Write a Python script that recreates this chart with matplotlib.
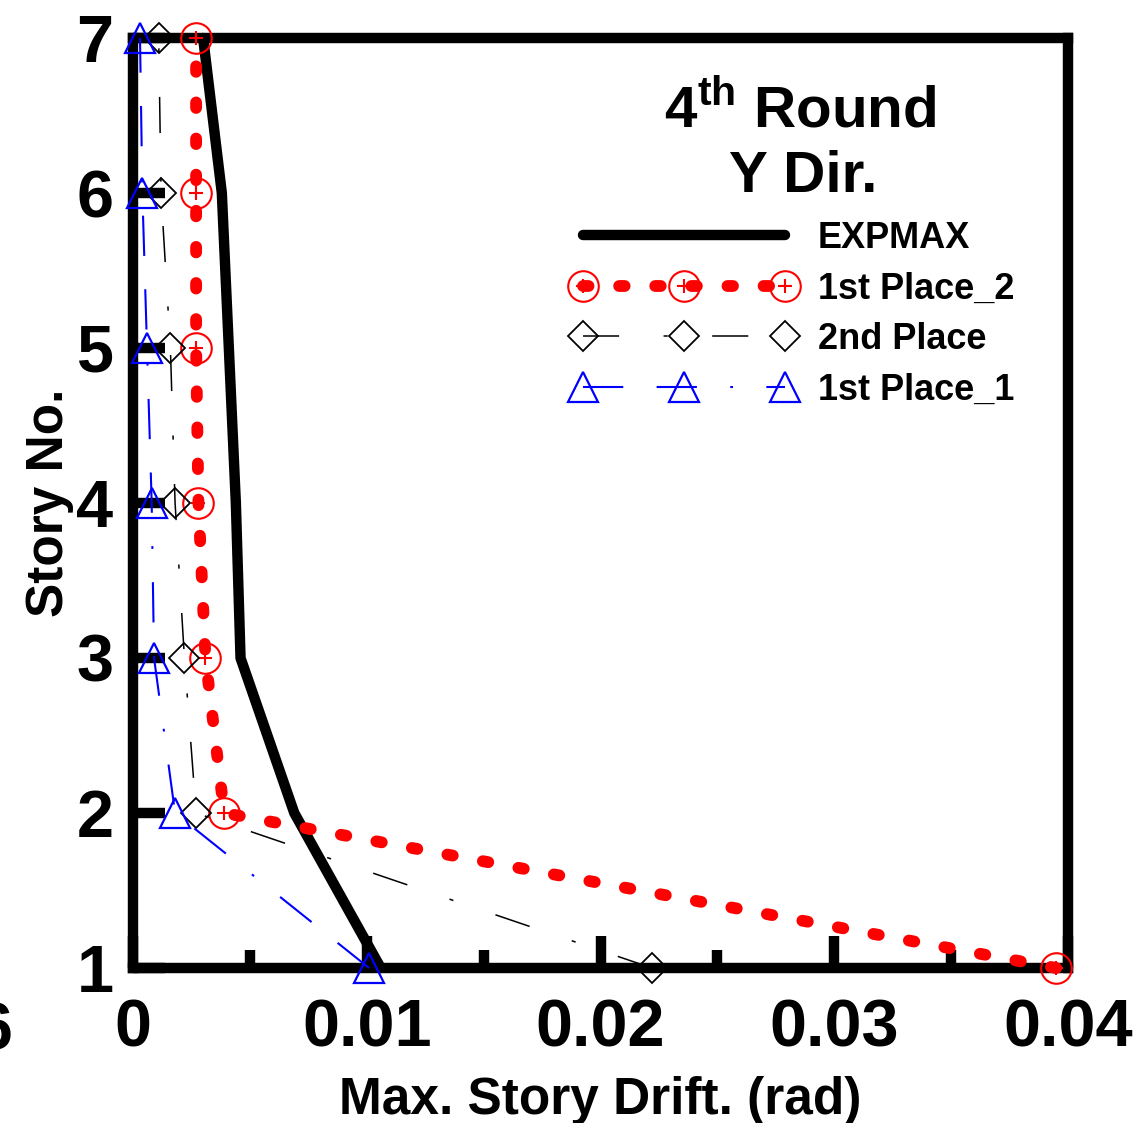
import matplotlib
matplotlib.use("Agg")
import matplotlib.pyplot as plt
from matplotlib.lines import Line2D
from matplotlib.legend_handler import HandlerTuple

plt.rcParams['font.family'] = ['Liberation Sans', 'DejaVu Sans']
plt.rcParams['font.weight'] = 'bold'
plt.rcParams['mathtext.fontset'] = 'custom'
plt.rcParams['mathtext.rm'] = 'Liberation Sans:bold'
plt.rcParams['mathtext.bf'] = 'Liberation Sans:bold'
plt.rcParams['lines.scale_dashes'] = False

# ---- data ----
stories = [1, 2, 3, 4, 5, 6, 7]
expmax = [0.0106, 0.0069, 0.0046, 0.0044, 0.0041, 0.0038, 0.0030]
first_place_2 = [0.0395, 0.0039, 0.0031, 0.0028, 0.0027, 0.0027, 0.0027]
second_place = [0.0222, 0.0027, 0.0022, 0.0018, 0.0016, 0.0012, 0.0011]
first_place_1 = [0.0101, 0.0018, 0.0009, 0.0008, 0.0006, 0.0004, 0.0003]
xticks = [0, 0.01, 0.02, 0.03, 0.04]
xticklabels = ['0', '0.01', '0.02', '0.03', '0.04']
xminor = [0.005, 0.015, 0.025, 0.035]
yticks = [1, 2, 3, 4, 5, 6, 7]

W, H = 1136, 1123
fig = plt.figure(figsize=(W / 100, H / 100), dpi=100)
ax = fig.add_axes([133 / W, 1 - 968 / H, (1068 - 133) / W, (968 - 38) / H])

l_exp, = ax.plot(expmax, stories, color='black', lw=7.5, solid_capstyle='round',
                 solid_joinstyle='round', zorder=3, clip_on=False)
l_red, = ax.plot(first_place_2, stories, color='red', lw=8.5, linestyle=(0, (4, 22)),
                 dash_capstyle='round', marker='o', ms=22, mfc='none', mec='red',
                 mew=1.5, zorder=4, clip_on=False)
l_redp, = ax.plot(first_place_2, stories, linestyle='none', marker='+', ms=10,
                  mec='red', mew=1.5, zorder=4, clip_on=False)
l_blk, = ax.plot(second_place, stories, color='black', lw=1.1,
                 linestyle=(0, (26, 32, 3, 32)), marker='D', ms=15, mfc='none',
                 mec='black', mew=1.3, zorder=5, clip_on=False)
l_blu, = ax.plot(first_place_1, stories, color='blue', lw=1.5,
                 linestyle=(0, (29, 24, 29, 24, 2, 24)), marker='^', ms=21,
                 mfc='none', mec='blue', mew=1.6, zorder=6, clip_on=False)

ax.set_xlim(0, 0.04)
ax.set_ylim(1, 7)
ax.set_xticks(xticks)
ax.set_xticklabels(xticklabels)
ax.set_xticks(xminor, minor=True)
ax.set_yticks(yticks)
ax.set_yticklabels([str(v) for v in yticks])

for s in ax.spines.values():
    s.set_linewidth(7.5)
    s.set_zorder(2)
ax.tick_params(axis='both', which='major', direction='in', length=23, width=7.5,
               labelsize=48, top=False, right=False)
ax.tick_params(axis='x', which='major', pad=22)
ax.tick_params(axis='y', which='major', pad=14)
ax.tick_params(axis='x', which='minor', direction='in', length=13, width=7.5,
               top=False)
for lab in ax.get_xticklabels() + ax.get_yticklabels():
    lab.set_fontweight('bold')

ax.set_xlabel('Max. Story Drift. (rad)', fontsize=37, fontweight='bold', labelpad=11)
ax.set_ylabel('Story No.', fontsize=37, fontweight='bold', labelpad=2)

# partial cut-off label at left edge (as in the reference)
fig.text(12 / W, 1 - 1050 / H, '6', fontsize=48, fontweight='bold', ha='right',
         va='baseline')

fig.text(800 / W, 1 - 127 / H, r'4$^{\mathrm{th}}$ Round', fontsize=42,
         fontweight='bold', ha='center', va='baseline')
fig.text(803 / W, 1 - 192 / H, 'Y Dir.', fontsize=42, fontweight='bold',
         ha='center', va='baseline')

leg = ax.legend([l_exp, (l_red, l_redp), l_blk, l_blu],
                ['EXPMAX', '1st Place_2', '2nd Place', '1st Place_1'],
                handler_map={tuple: HandlerTuple(ndivide=1, pad=0)},
                loc='upper left', bbox_to_anchor=(572 / W, 1 - 221 / H),
                bbox_transform=fig.transFigure, frameon=False, numpoints=3,
                handlelength=6.2, handletextpad=0.6, labelspacing=0.43,
                borderpad=0, borderaxespad=0,
                prop={'family': 'Liberation Sans', 'weight': 'bold', 'size': 26})

fig.savefig('out.png', dpi=100)
